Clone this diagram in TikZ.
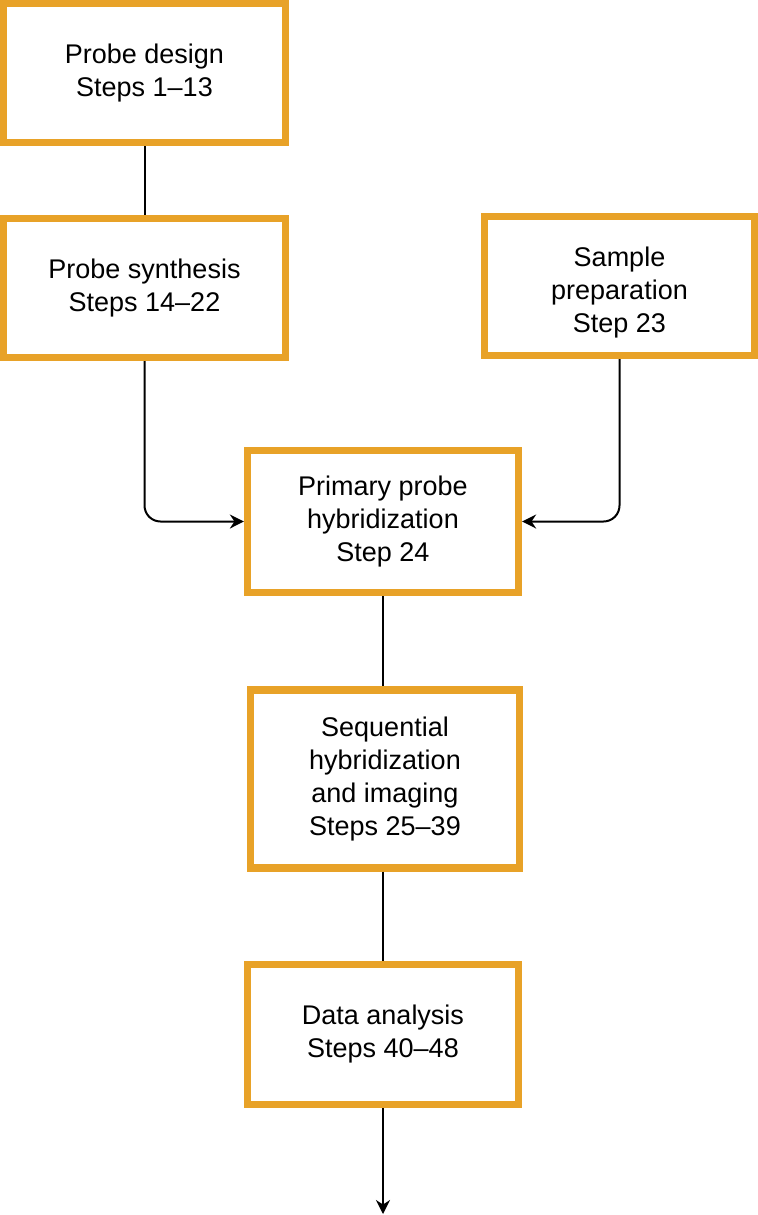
\documentclass[tikz,border=0pt]{standalone}
\usepackage{fontspec}
\setmainfont{Liberation Sans}
\usepackage{tikz}
\usetikzlibrary{positioning,arrows.meta}
\definecolor{boxorange}{RGB}{232,162,40}

\begin{document}
\begin{tikzpicture}[x=0.5pt,y=-0.5pt,line width=1pt,
                    stage node/.style={rectangle,draw=boxorange,line width=3.6pt,fill=white,
                      align=center,inner sep=0pt,font=\fontsize{13.5}{16.5}\selectfont},
                    link/.style={draw=black,line width=1pt,rounded corners=8pt},
                    tip/.style={-{Stealth[length=7pt,width=7pt]}}]

  \useasboundingbox (0,0) rectangle (758,1215);

  \node[stage node,minimum width=141pt,minimum height=69.5pt] (design) at (144.5,73) {Probe design\\Steps 1--13};
  \node[stage node,minimum width=141pt,minimum height=69.5pt] (synth) at (144.5,288) {Probe synthesis\\Steps 14--22};
  \node[stage node,minimum width=135pt,minimum height=69.5pt] (sample) at (619.5,286) {\rule{0pt}{8pt}\\[-8.5pt]Sample\\preparation\\Step 23};
  \node[stage node,minimum width=135.5pt,minimum height=71pt] (primary) at (383,521.5) {Primary probe\\hybridization\\Step 24};
  \node[stage node,minimum width=134.5pt,minimum height=89pt] (seq) at (385,779) {Sequential\\hybridization\\and imaging\\Steps 25--39};
  \node[stage node,minimum width=135.5pt,minimum height=70pt] (data) at (383,1034.5) {Data analysis\\Steps 40--48};
  \coordinate (out) at (383,1214);

  \path[link]
    (design) -- (synth)
    (primary.south) -- (primary.south |- seq.north)
    (seq.south -| primary.south) -- (data.north);
  \draw[link,tip] (synth.south) |- (primary.west);
  \draw[link,tip] (sample.south) |- (primary.east);
  \draw[link,tip] (data.south) -- (out);

\end{tikzpicture}
\end{document}
